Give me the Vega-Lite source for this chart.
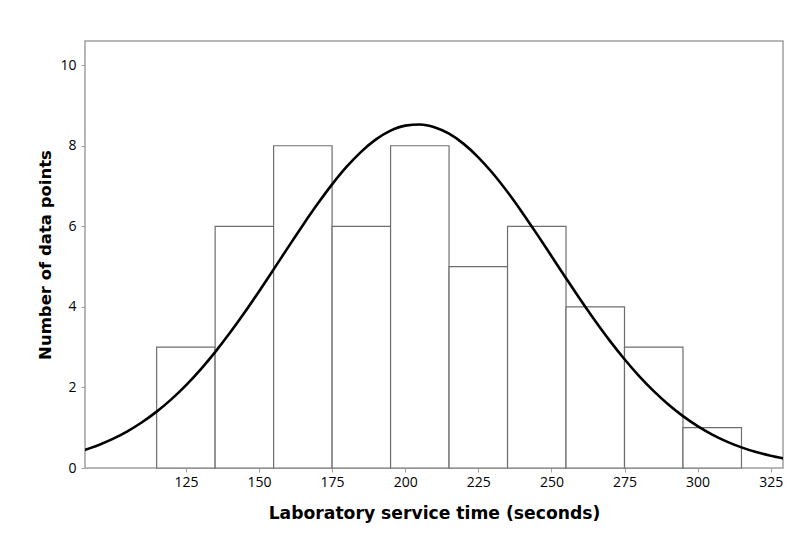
{
  "$schema": "https://vega.github.io/schema/vega-lite/v6.json",
  "width": 698,
  "height": 427,
  "autosize": {"type": "none"},
  "padding": {"left": 85, "top": 41, "right": 26, "bottom": 74},
  "background": "white",
  "config": {
    "view": {"stroke": "#a0a0a0", "strokeWidth": 1.5},
    "font": "Open Sans",
    "axis": {
      "grid": false,
      "domain": false,
      "tickColor": "#a0a0a0",
      "tickSize": 4,
      "labelFont": "Open Sans",
      "labelFontSize": 14,
      "labelColor": "#000000",
      "titleFont": "DejaVu Sans",
      "titleFontSize": 16.5,
      "titleFontWeight": "bold",
      "titleColor": "#000000"
    }
  },
  "datasets": {
    "bars": [
      {"start": 115, "end": 135, "count": 3},
      {"start": 135, "end": 155, "count": 6},
      {"start": 155, "end": 175, "count": 8},
      {"start": 175, "end": 195, "count": 6},
      {"start": 195, "end": 215, "count": 8},
      {"start": 215, "end": 235, "count": 5},
      {"start": 235, "end": 255, "count": 6},
      {"start": 255, "end": 275, "count": 4},
      {"start": 275, "end": 295, "count": 3},
      {"start": 295, "end": 315, "count": 1}
    ],
    "curve": [
      {"t": 90, "d": 0.439}, {"t": 95, "d": 0.566}, {"t": 100, "d": 0.722}, {"t": 105, "d": 0.910},
      {"t": 110, "d": 1.135}, {"t": 115, "d": 1.399}, {"t": 120, "d": 1.704}, {"t": 125, "d": 2.052},
      {"t": 130, "d": 2.444}, {"t": 135, "d": 2.877}, {"t": 140, "d": 3.349}, {"t": 145, "d": 3.853},
      {"t": 150, "d": 4.384}, {"t": 155, "d": 4.931}, {"t": 160, "d": 5.483}, {"t": 165, "d": 6.028},
      {"t": 170, "d": 6.551}, {"t": 175, "d": 7.040}, {"t": 180, "d": 7.479}, {"t": 185, "d": 7.855},
      {"t": 190, "d": 8.157}, {"t": 195, "d": 8.374}, {"t": 200, "d": 8.499}, {"t": 205, "d": 8.528},
      {"t": 210, "d": 8.460}, {"t": 215, "d": 8.298}, {"t": 220, "d": 8.046}, {"t": 225, "d": 7.713},
      {"t": 230, "d": 7.310}, {"t": 235, "d": 6.850}, {"t": 240, "d": 6.345}, {"t": 245, "d": 5.812},
      {"t": 250, "d": 5.262}, {"t": 255, "d": 4.711}, {"t": 260, "d": 4.169}, {"t": 265, "d": 3.648},
      {"t": 270, "d": 3.155}, {"t": 275, "d": 2.699}, {"t": 280, "d": 2.282}, {"t": 285, "d": 1.908},
      {"t": 290, "d": 1.576}, {"t": 295, "d": 1.288}, {"t": 300, "d": 1.040}, {"t": 305, "d": 0.831},
      {"t": 310, "d": 0.656}, {"t": 315, "d": 0.512}, {"t": 320, "d": 0.395}, {"t": 325, "d": 0.302},
      {"t": 330, "d": 0.227}
    ]
  },
  "layer": [
    {
      "data": {"name": "bars"},
      "mark": {"type": "rect", "fill": "white", "stroke": "#6e6e6e", "strokeWidth": 1.2},
      "encoding": {
        "x": {
          "field": "start", "type": "quantitative",
          "scale": {"domain": [90.5, 329.2], "nice": false, "zero": false},
          "axis": {"values": [125, 150, 175, 200, 225, 250, 275, 300, 325], "title": "Laboratory service time (seconds)", "labelPadding": 3, "titlePadding": 15, "titleFontSize": 17.2}
        },
        "x2": {"field": "end"},
        "y": {
          "field": "count", "type": "quantitative",
          "scale": {"domain": [0, 10.6], "nice": false},
          "axis": {"values": [0, 2, 4, 6, 8, 10], "title": "Number of data points", "labelPadding": 5, "titlePadding": 6}
        },
        "y2": {"datum": 0}
      }
    },
    {
      "data": {"name": "curve"},
      "mark": {"type": "line", "color": "black", "strokeWidth": 2.6, "clip": true, "interpolate": "monotone"},
      "encoding": {
        "x": {"field": "t", "type": "quantitative"},
        "y": {"field": "d", "type": "quantitative"}
      }
    }
  ]
}
